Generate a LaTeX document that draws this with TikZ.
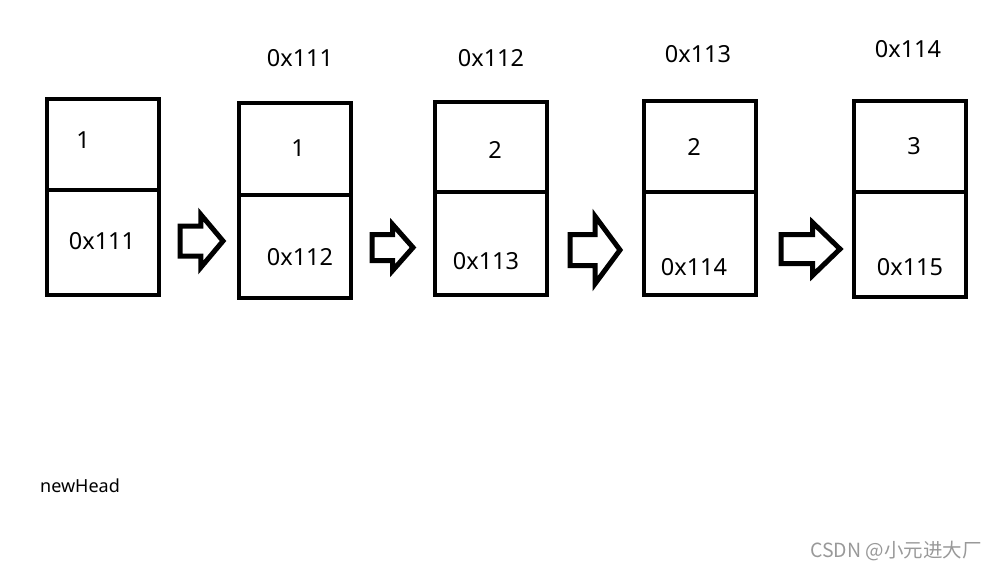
\documentclass[tikz,border=0pt]{standalone}
\usepackage{fontspec}
\setmainfont{Noto Sans}
\newfontfamily\cjkfont{Noto Sans CJK SC}
\usetikzlibrary{shapes.arrows}

\begin{document}
\begin{tikzpicture}[x=1pt, y=-1pt,
    cell/.style={rectangle, draw=black, line width=4pt,
      minimum width=112pt, inner sep=0pt, outer sep=0pt, anchor=north},
    valcell/.style={cell, minimum height=91pt},
    addrcell/.style={cell, minimum height=104pt},
    txt/.style={font=\fontsize{23.5}{27}\selectfont, inner sep=0pt},
    blockarrow/.style={single arrow, draw=black, line width=5pt,
      inner xsep=0pt, outer sep=0pt, anchor=tail}
  ]
  \useasboundingbox (0,0) rectangle (996,570);

  % list nodes: value cell on top, address cell below
  \node[valcell]                          (v1) at (102.5,99)  {};
  \node[addrcell, minimum height=105pt]   (a1) at (v1.south)  {};
  \node[valcell, minimum height=92pt]     (v2) at (295,103)   {};
  \node[addrcell, minimum height=103pt]   (a2) at (v2.south)  {};
  \node[valcell, minimum height=90pt]     (v3) at (490.5,102) {};
  \node[addrcell, minimum height=103pt]   (a3) at (v3.south)  {};
  \node[valcell]                          (v4) at (699.5,101) {};
  \node[addrcell, minimum height=103pt]   (a4) at (v4.south)  {};
  \node[valcell]                          (v5) at (910,100.5) {};
  \node[addrcell, minimum height=105pt]   (a5) at (v5.south)  {};

  % cell contents
  \node[txt] (t1v) at (83,140)  {1};
  \node[txt] (t1a) at (102,241) {0x111};
  \node[txt] (t2v) at (298,148) {1};
  \node[txt] (t2a) at (300,257) {0x112};
  \node[txt] (t3v) at (495,150) {2};
  \node[txt] (t3a) at (486,261) {0x113};
  \node[txt] (t4v) at (694,147) {2};
  \node[txt] (t4a) at (694,267) {0x114};
  \node[txt] (t5v) at (914,146) {3};
  \node[txt] (t5a) at (910,267) {0x115};

  % addresses above the nodes
  \node[txt] (l2) at (300,58) {0x111};
  \node[txt] (l3) at (491,58) {0x112};
  \node[txt] (l4) at (698,54) {0x113};
  \node[txt] (l5) at (908,49) {0x114};

  % block arrows between the nodes
  \node[blockarrow, minimum height=43pt, inner ysep=12.5pt,
    single arrow head extend=11.5pt, single arrow tip angle=100]
    (p1) at (180,241) {};
  \node[blockarrow, minimum height=41pt, inner ysep=10.5pt,
    single arrow head extend=10pt, single arrow tip angle=97]
    (p2) at (372,247.5) {};
  \node[blockarrow, minimum height=50pt, inner ysep=13pt,
    single arrow head extend=18pt, single arrow tip angle=107]
    (p3) at (570,250) {};
  \node[blockarrow, minimum height=59pt, inner ysep=12pt,
    single arrow head extend=12pt, single arrow tip angle=88]
    (p4) at (781,249) {};

  \node[font=\fontsize{18}{22}\selectfont, inner sep=0pt]
    (head) at (80,486) {newHead};
  \node[font=\cjkfont\fontsize{19.5}{23}\selectfont, text=black!40,
    inner sep=0pt] (mark) at (896,551) {CSDN @小元进大厂};
\end{tikzpicture}
\end{document}
